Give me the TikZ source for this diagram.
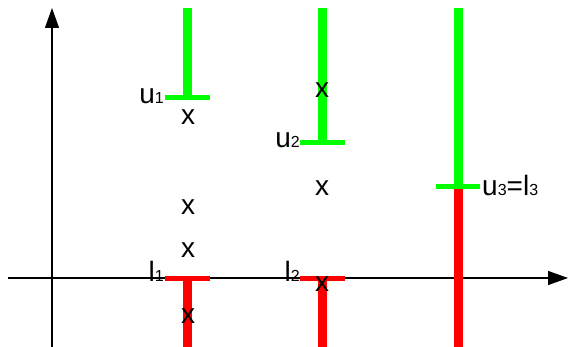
\documentclass[tikz,border=0pt]{standalone}
\usepackage{fontspec}
\setmainfont{Liberation Sans}
\usetikzlibrary{arrows.meta}
\newcommand\lowidx[1]{{\fontsize{16}{16}\selectfont #1}}

\begin{document}
\begin{tikzpicture}[x=1pt, y=-1pt,
		every node/.style={inner sep=0pt, font=\fontsize{28}{28}\selectfont},
		axis/.style={draw=black, line width=1.2pt, -{Triangle[length=20pt, width=14pt]}},
		upper/.style={draw=green, line width=9pt},
		lower/.style={draw=red, line width=9pt},
		uptick/.style={draw=green, line width=5pt},
		lowtick/.style={draw=red, line width=5pt}
	]
	\useasboundingbox (0,0) rectangle (569,347);
	% axes
	\coordinate (O) at (52,278);
	\coordinate (ybot) at (52,347);
	\coordinate (ytop) at (52,8);
	\coordinate (xleft) at (8,278);
	\coordinate (xright) at (568,278);
	\draw[axis] (ybot) -- (ytop);
	\draw[axis] (xleft) -- (xright);
	% bar 1
	\coordinate (t1) at (187.5,8);
	\coordinate (u1) at (187.5,98);
	\coordinate (l1) at (187.5,278);
	\coordinate (b1) at (187.5,347);
	\draw[upper] (t1) -- (u1);
	\draw[uptick] ([xshift=-22.5pt]u1) -- ([xshift=22.5pt]u1);
	\draw[lower] (l1) -- (b1);
	\draw[lowtick] ([xshift=-22.5pt]l1) -- ([xshift=22.5pt]l1);
	\node[anchor=base east] (lab u1) at (164,104) {u\lowidx{1}};
	\node[anchor=base east] (lab l1) at (164,281) {l\lowidx{1}};
	% bar 2
	\coordinate (t2) at (322.5,8);
	\coordinate (u2) at (322.5,143);
	\coordinate (l2) at (322.5,278);
	\coordinate (b2) at (322.5,347);
	\draw[upper] (t2) -- (u2);
	\draw[uptick] ([xshift=-22.5pt]u2) -- ([xshift=22.5pt]u2);
	\draw[lower] (l2) -- (b2);
	\draw[lowtick] ([xshift=-22.5pt]l2) -- ([xshift=22.5pt]l2);
	\node[anchor=base east] (lab u2) at (300,148) {u\lowidx{2}};
	\node[anchor=base east] (lab l2) at (300,281) {l\lowidx{2}};
	% bar 3
	\coordinate (t3) at (458,8);
	\coordinate (m3) at (458,187);
	\coordinate (b3) at (458,347);
	\draw[upper] (t3) -- (m3);
	\draw[lower] (m3) -- (b3);
	\draw[uptick] ([xshift=-22pt]m3) -- ([xshift=22pt]m3);
	\node[anchor=base west] (lab ul3) at (482,196) {u\lowidx{3}=l\lowidx{3}};
	% points
	\foreach \px/\py [count=\i] in {188/117, 188/207, 188/250, 188/316, 322/90, 322/188, 322/284}
		\node (x\i) at (\px,\py) {x};
\end{tikzpicture}
\end{document}
